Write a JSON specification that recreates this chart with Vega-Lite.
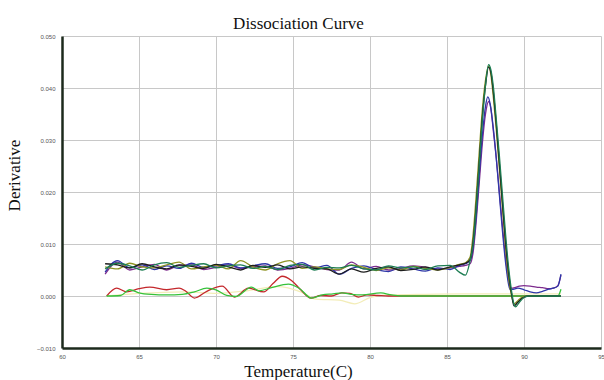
{
  "$schema": "https://vega.github.io/schema/vega-lite/v6.json",
  "width": 539,
  "height": 312,
  "autosize": {"type": "none"},
  "padding": {"left": 62, "top": 36, "right": 3, "bottom": 32},
  "background": "white",
  "title": {"text": "Dissociation Curve", "font": "Liberation Serif", "fontSize": 17, "fontWeight": "normal", "color": "#111", "baseline": "alphabetic", "offset": 9, "dx": -33, "dy": 22, "anchor": "middle"},
  "config": {"view": {"stroke": null}},
  "data": {"values": [
    {"s":"a","t":62.9,"v":0.0},{"s":"a","t":65.0,"v":0.0005},{"s":"a","t":68.0,"v":0.0008},{"s":"a","t":70.0,"v":0.0005},{"s":"a","t":72.0,"v":0.001},{"s":"a","t":74.0,"v":0.0018},{"s":"a","t":75.5,"v":0.0008},{"s":"a","t":76.5,"v":-0.0006},{"s":"a","t":78.0,"v":-0.0008},{"s":"a","t":79.0,"v":-0.0015},{"s":"a","t":80.0,"v":-0.0003},{"s":"a","t":81.0,"v":0.0002},{"s":"a","t":83.0,"v":0.0003},{"s":"a","t":86.0,"v":0.0004},{"s":"a","t":90.0,"v":0.0004},{"s":"a","t":92.4,"v":0.0004},

    {"s":"b","t":62.9,"v":0.0},{"s":"b","t":63.55,"v":0.0015},{"s":"b","t":64.2,"v":0.0008},{"s":"b","t":65.0,"v":0.0014},{"s":"b","t":65.7,"v":0.0017},{"s":"b","t":66.8,"v":0.0012},{"s":"b","t":67.6,"v":0.0015},{"s":"b","t":68.0,"v":0.001},{"s":"b","t":68.6,"v":-0.0004},{"s":"b","t":69.4,"v":0.0009},{"s":"b","t":70.4,"v":0.0019},{"s":"b","t":71.2,"v":-0.0002},{"s":"b","t":72.1,"v":0.0015},{"s":"b","t":73.1,"v":0.0008},{"s":"b","t":73.7,"v":0.0024},{"s":"b","t":74.3,"v":0.0038},{"s":"b","t":74.9,"v":0.003},{"s":"b","t":75.5,"v":0.0012},{"s":"b","t":76.15,"v":-0.0004},{"s":"b","t":76.8,"v":0.0001},{"s":"b","t":77.5,"v":0.0},{"s":"b","t":78.15,"v":0.0006},{"s":"b","t":78.7,"v":0.0005},{"s":"b","t":79.25,"v":-0.0002},{"s":"b","t":79.8,"v":0.0002},{"s":"b","t":80.5,"v":0.0001},{"s":"b","t":81.2,"v":0.0},{"s":"b","t":84.0,"v":0.0},{"s":"b","t":88.0,"v":0.0},{"s":"b","t":92.4,"v":0.0},

    {"s":"c","t":62.9,"v":0.0},{"s":"c","t":63.8,"v":0.0001},{"s":"c","t":64.4,"v":0.0012},{"s":"c","t":65.0,"v":0.0006},{"s":"c","t":65.8,"v":0.0003},{"s":"c","t":66.8,"v":0.0002},{"s":"c","t":67.8,"v":0.0003},{"s":"c","t":68.6,"v":0.0008},{"s":"c","t":69.4,"v":0.0015},{"s":"c","t":70.0,"v":0.0012},{"s":"c","t":70.7,"v":0.0001},{"s":"c","t":71.3,"v":-0.0001},{"s":"c","t":72.3,"v":0.0017},{"s":"c","t":72.8,"v":0.001},{"s":"c","t":73.6,"v":0.0016},{"s":"c","t":74.7,"v":0.0023},{"s":"c","t":75.4,"v":0.0015},{"s":"c","t":76.2,"v":-0.0004},{"s":"c","t":76.9,"v":0.0002},{"s":"c","t":77.6,"v":0.0004},{"s":"c","t":78.2,"v":0.0006},{"s":"c","t":78.8,"v":0.0003},{"s":"c","t":79.5,"v":0.0002},{"s":"c","t":80.7,"v":0.0006},{"s":"c","t":81.4,"v":0.0002},{"s":"c","t":82.0,"v":0.0},{"s":"c","t":86.0,"v":0.0},{"s":"c","t":90.0,"v":0.0},{"s":"c","t":92.2,"v":0.0},{"s":"c","t":92.4,"v":0.0013},

    {"s":"d","t":62.8,"v":0.0042},{"s":"d","t":63.6,"v":0.0065},{"s":"d","t":64.4,"v":0.005},{"s":"d","t":65.2,"v":0.0056},{"s":"d","t":66.0,"v":0.0061},{"s":"d","t":66.8,"v":0.005},{"s":"d","t":67.6,"v":0.0059},{"s":"d","t":68.4,"v":0.006},{"s":"d","t":69.2,"v":0.0051},{"s":"d","t":70.0,"v":0.0055},{"s":"d","t":70.8,"v":0.006},{"s":"d","t":71.6,"v":0.0053},{"s":"d","t":72.4,"v":0.0056},{"s":"d","t":73.2,"v":0.0058},{"s":"d","t":74.0,"v":0.005},{"s":"d","t":74.8,"v":0.0053},{"s":"d","t":75.6,"v":0.006},{"s":"d","t":76.4,"v":0.0056},{"s":"d","t":77.2,"v":0.0051},{"s":"d","t":78.0,"v":0.005},{"s":"d","t":78.8,"v":0.0065},{"s":"d","t":79.6,"v":0.0052},{"s":"d","t":80.4,"v":0.0057},{"s":"d","t":81.2,"v":0.005},{"s":"d","t":82.0,"v":0.0053},{"s":"d","t":82.8,"v":0.0058},{"s":"d","t":83.6,"v":0.0055},{"s":"d","t":84.4,"v":0.0052},{"s":"d","t":85.2,"v":0.0054},{"s":"d","t":85.8,"v":0.0057},{"s":"d","t":86.2,"v":0.0059},
    {"s":"d","t":86.5,"v":0.0062},{"s":"d","t":86.7,"v":0.0085},{"s":"d","t":86.9,"v":0.0145},{"s":"d","t":87.1,"v":0.022},{"s":"d","t":87.3,"v":0.0295},{"s":"d","t":87.5,"v":0.035},{"s":"d","t":87.7,"v":0.0374},{"s":"d","t":87.85,"v":0.036},{"s":"d","t":88.0,"v":0.032},{"s":"d","t":88.2,"v":0.0265},{"s":"d","t":88.4,"v":0.02},{"s":"d","t":88.6,"v":0.0135},{"s":"d","t":88.8,"v":0.0075},{"s":"d","t":89.0,"v":0.003},{"s":"d","t":89.15,"v":0.0015},{"s":"d","t":89.4,"v":0.0016},{"s":"d","t":89.7,"v":0.0019},{"s":"d","t":90.0,"v":0.002},{"s":"d","t":90.4,"v":0.0019},{"s":"d","t":90.8,"v":0.0017},{"s":"d","t":91.2,"v":0.0016},{"s":"d","t":91.6,"v":0.0014},{"s":"d","t":91.9,"v":0.0015},{"s":"d","t":92.2,"v":0.002},{"s":"d","t":92.4,"v":0.004},

    {"s":"e","t":62.8,"v":0.0046},{"s":"e","t":63.6,"v":0.0068},{"s":"e","t":64.4,"v":0.0054},{"s":"e","t":65.2,"v":0.006},{"s":"e","t":66.0,"v":0.0051},{"s":"e","t":66.8,"v":0.0058},{"s":"e","t":67.6,"v":0.0053},{"s":"e","t":68.4,"v":0.0063},{"s":"e","t":69.2,"v":0.0055},{"s":"e","t":70.0,"v":0.0058},{"s":"e","t":70.8,"v":0.0062},{"s":"e","t":71.6,"v":0.0054},{"s":"e","t":72.4,"v":0.0058},{"s":"e","t":73.2,"v":0.0062},{"s":"e","t":74.0,"v":0.0053},{"s":"e","t":74.8,"v":0.0056},{"s":"e","t":75.6,"v":0.0064},{"s":"e","t":76.4,"v":0.0054},{"s":"e","t":77.2,"v":0.0059},{"s":"e","t":78.0,"v":0.0042},{"s":"e","t":78.8,"v":0.0053},{"s":"e","t":79.6,"v":0.0058},{"s":"e","t":80.4,"v":0.0051},{"s":"e","t":81.2,"v":0.0047},{"s":"e","t":82.0,"v":0.0056},{"s":"e","t":82.8,"v":0.0052},{"s":"e","t":83.6,"v":0.0048},{"s":"e","t":84.4,"v":0.0054},{"s":"e","t":85.2,"v":0.0051},{"s":"e","t":85.8,"v":0.0059},{"s":"e","t":86.2,"v":0.0062},
    {"s":"e","t":86.5,"v":0.0068},{"s":"e","t":86.7,"v":0.0095},{"s":"e","t":86.9,"v":0.0155},{"s":"e","t":87.1,"v":0.0235},{"s":"e","t":87.3,"v":0.031},{"s":"e","t":87.5,"v":0.0365},{"s":"e","t":87.65,"v":0.0383},{"s":"e","t":87.8,"v":0.037},{"s":"e","t":88.0,"v":0.0325},{"s":"e","t":88.2,"v":0.0265},{"s":"e","t":88.4,"v":0.0195},{"s":"e","t":88.6,"v":0.0125},{"s":"e","t":88.8,"v":0.0065},{"s":"e","t":89.0,"v":0.0022},{"s":"e","t":89.1,"v":0.0012},{"s":"e","t":89.3,"v":0.0013},{"s":"e","t":89.6,"v":0.0015},{"s":"e","t":90.0,"v":0.0012},{"s":"e","t":90.4,"v":0.0008},{"s":"e","t":90.8,"v":0.0006},{"s":"e","t":91.2,"v":0.0009},{"s":"e","t":91.6,"v":0.0013},{"s":"e","t":91.9,"v":0.0015},{"s":"e","t":92.2,"v":0.0019},{"s":"e","t":92.4,"v":0.0042},

    {"s":"f","t":62.8,"v":0.0056},{"s":"f","t":63.6,"v":0.0052},{"s":"f","t":64.4,"v":0.0063},{"s":"f","t":65.2,"v":0.0056},{"s":"f","t":66.0,"v":0.0054},{"s":"f","t":66.8,"v":0.006},{"s":"f","t":67.6,"v":0.0065},{"s":"f","t":68.4,"v":0.0052},{"s":"f","t":69.2,"v":0.0056},{"s":"f","t":70.0,"v":0.0059},{"s":"f","t":70.8,"v":0.0052},{"s":"f","t":71.6,"v":0.0068},{"s":"f","t":72.4,"v":0.0056},{"s":"f","t":73.2,"v":0.005},{"s":"f","t":74.0,"v":0.0062},{"s":"f","t":74.8,"v":0.0068},{"s":"f","t":75.6,"v":0.0053},{"s":"f","t":76.4,"v":0.0056},{"s":"f","t":77.2,"v":0.0052},{"s":"f","t":78.0,"v":0.0051},{"s":"f","t":78.8,"v":0.006},{"s":"f","t":79.6,"v":0.0055},{"s":"f","t":80.4,"v":0.0049},{"s":"f","t":81.2,"v":0.0054},{"s":"f","t":82.0,"v":0.005},{"s":"f","t":82.8,"v":0.0057},{"s":"f","t":83.6,"v":0.0053},{"s":"f","t":84.4,"v":0.005},{"s":"f","t":85.2,"v":0.0055},{"s":"f","t":85.8,"v":0.0061},{"s":"f","t":86.2,"v":0.0064},
    {"s":"f","t":86.5,"v":0.0075},{"s":"f","t":86.7,"v":0.012},{"s":"f","t":86.9,"v":0.0195},{"s":"f","t":87.1,"v":0.028},{"s":"f","t":87.3,"v":0.036},{"s":"f","t":87.5,"v":0.0415},{"s":"f","t":87.7,"v":0.0442},{"s":"f","t":87.85,"v":0.0425},{"s":"f","t":88.0,"v":0.0385},{"s":"f","t":88.2,"v":0.032},{"s":"f","t":88.4,"v":0.0245},{"s":"f","t":88.6,"v":0.017},{"s":"f","t":88.8,"v":0.0095},{"s":"f","t":89.0,"v":0.0035},{"s":"f","t":89.2,"v":0.0},{"s":"f","t":89.35,"v":-0.0015},{"s":"f","t":89.6,"v":-0.0009},{"s":"f","t":89.9,"v":-0.0002},{"s":"f","t":90.3,"v":0.0},{"s":"f","t":92.4,"v":0.0},

    {"s":"g","t":62.8,"v":0.0062},{"s":"g","t":63.6,"v":0.006},{"s":"g","t":64.4,"v":0.0054},{"s":"g","t":65.2,"v":0.0062},{"s":"g","t":66.0,"v":0.0056},{"s":"g","t":66.8,"v":0.0052},{"s":"g","t":67.6,"v":0.006},{"s":"g","t":68.4,"v":0.0057},{"s":"g","t":69.2,"v":0.0053},{"s":"g","t":70.0,"v":0.0061},{"s":"g","t":70.8,"v":0.0056},{"s":"g","t":71.6,"v":0.005},{"s":"g","t":72.4,"v":0.0059},{"s":"g","t":73.2,"v":0.0055},{"s":"g","t":74.0,"v":0.006},{"s":"g","t":74.8,"v":0.0052},{"s":"g","t":75.6,"v":0.0056},{"s":"g","t":76.4,"v":0.0053},{"s":"g","t":77.2,"v":0.0052},{"s":"g","t":78.0,"v":0.0042},{"s":"g","t":78.8,"v":0.0052},{"s":"g","t":79.6,"v":0.0046},{"s":"g","t":80.4,"v":0.0053},{"s":"g","t":81.2,"v":0.0056},{"s":"g","t":82.0,"v":0.0049},{"s":"g","t":82.8,"v":0.0051},{"s":"g","t":83.6,"v":0.0056},{"s":"g","t":84.4,"v":0.005},{"s":"g","t":85.2,"v":0.0056},{"s":"g","t":85.8,"v":0.006},{"s":"g","t":86.2,"v":0.0063},
    {"s":"g","t":86.5,"v":0.007},{"s":"g","t":86.7,"v":0.0105},{"s":"g","t":86.9,"v":0.0175},{"s":"g","t":87.1,"v":0.026},{"s":"g","t":87.3,"v":0.0345},{"s":"g","t":87.5,"v":0.0405},{"s":"g","t":87.7,"v":0.044},{"s":"g","t":87.85,"v":0.043},{"s":"g","t":88.0,"v":0.0395},{"s":"g","t":88.2,"v":0.033},{"s":"g","t":88.4,"v":0.0255},{"s":"g","t":88.6,"v":0.018},{"s":"g","t":88.8,"v":0.0105},{"s":"g","t":89.0,"v":0.0045},{"s":"g","t":89.2,"v":0.0002},{"s":"g","t":89.35,"v":-0.0019},{"s":"g","t":89.6,"v":-0.0012},{"s":"g","t":89.9,"v":-0.0004},{"s":"g","t":90.3,"v":0.0},{"s":"g","t":92.4,"v":0.0},

    {"s":"h","t":62.8,"v":0.0052},{"s":"h","t":63.6,"v":0.0063},{"s":"h","t":64.4,"v":0.0058},{"s":"h","t":65.2,"v":0.005},{"s":"h","t":66.0,"v":0.006},{"s":"h","t":66.8,"v":0.0064},{"s":"h","t":67.6,"v":0.0055},{"s":"h","t":68.4,"v":0.0059},{"s":"h","t":69.2,"v":0.0062},{"s":"h","t":70.0,"v":0.0054},{"s":"h","t":70.8,"v":0.0058},{"s":"h","t":71.6,"v":0.006},{"s":"h","t":72.4,"v":0.0053},{"s":"h","t":73.2,"v":0.0057},{"s":"h","t":74.0,"v":0.0051},{"s":"h","t":74.8,"v":0.0059},{"s":"h","t":75.6,"v":0.0061},{"s":"h","t":76.4,"v":0.005},{"s":"h","t":77.2,"v":0.0055},{"s":"h","t":78.0,"v":0.0054},{"s":"h","t":78.8,"v":0.0059},{"s":"h","t":79.6,"v":0.0052},{"s":"h","t":80.4,"v":0.005},{"s":"h","t":81.2,"v":0.0058},{"s":"h","t":82.0,"v":0.0054},{"s":"h","t":82.8,"v":0.0056},{"s":"h","t":83.6,"v":0.0051},{"s":"h","t":84.4,"v":0.0058},{"s":"h","t":85.2,"v":0.0059},{"s":"h","t":85.8,"v":0.0046},{"s":"h","t":86.2,"v":0.004},
    {"s":"h","t":86.5,"v":0.0068},{"s":"h","t":86.7,"v":0.01},{"s":"h","t":86.9,"v":0.017},{"s":"h","t":87.1,"v":0.0255},{"s":"h","t":87.3,"v":0.034},{"s":"h","t":87.5,"v":0.0405},{"s":"h","t":87.7,"v":0.0445},{"s":"h","t":87.85,"v":0.0435},{"s":"h","t":88.0,"v":0.0405},{"s":"h","t":88.2,"v":0.034},{"s":"h","t":88.4,"v":0.027},{"s":"h","t":88.6,"v":0.0195},{"s":"h","t":88.8,"v":0.012},{"s":"h","t":89.0,"v":0.0055},{"s":"h","t":89.2,"v":0.0008},{"s":"h","t":89.35,"v":-0.0016},{"s":"h","t":89.45,"v":-0.0021},{"s":"h","t":89.7,"v":-0.0012},{"s":"h","t":90.0,"v":-0.0003},{"s":"h","t":90.3,"v":0.0},{"s":"h","t":92.4,"v":0.0}
  ]},
  "mark": {"type": "line", "interpolate": "monotone", "strokeWidth": 1.3, "clip": true},
  "encoding": {
    "x": {"field": "t", "type": "quantitative",
      "scale": {"domain": [60, 95], "nice": false, "zero": false},
      "axis": {"title": "Temperature(C)", "values": [60, 65, 70, 75, 80, 85, 90, 95],
        "grid": true, "gridColor": "#c8c8c8", "gridWidth": 1,
        "domainColor": "#1c2a1c", "domainWidth": 2.5, "ticks": false,
        "labelFont": "Liberation Sans", "labelFontSize": 6, "labelColor": "#555", "labelPadding": 5, "labelFlush": false,
        "titleFont": "Liberation Serif", "titleFontSize": 17, "titleFontWeight": "normal", "titleColor": "#111",
        "titleX": 236, "titleY": 28, "titleAlign": "center", "titleBaseline": "alphabetic"}},
    "y": {"field": "v", "type": "quantitative",
      "scale": {"domain": [-0.01, 0.05], "nice": false, "zero": false},
      "axis": {"title": "Derivative", "values": [-0.01, 0, 0.01, 0.02, 0.03, 0.04, 0.05], "format": ".3f",
        "grid": true, "gridColor": "#c8c8c8", "gridWidth": 1,
        "domainColor": "#1c2a1c", "domainWidth": 2.5, "ticks": false,
        "labelFont": "Liberation Sans", "labelFontSize": 6, "labelColor": "#555", "labelPadding": 7, "labelFlush": false,
        "titleFont": "Liberation Serif", "titleFontSize": 17, "titleFontWeight": "normal", "titleColor": "#111",
        "titleX": -48, "titleY": 139, "titleAngle": -90, "titleAlign": "center", "titleBaseline": "middle"}},
    "color": {"field": "s", "type": "nominal", "legend": null,
      "scale": {"domain": ["a", "b", "c", "d", "e", "f", "g", "h"],
        "range": ["#f3edb8", "#c4282c", "#35c23a", "#7e2c8e", "#2e36a8", "#8f9424", "#1e1e1e", "#1d7d52"]}}
  }
}
